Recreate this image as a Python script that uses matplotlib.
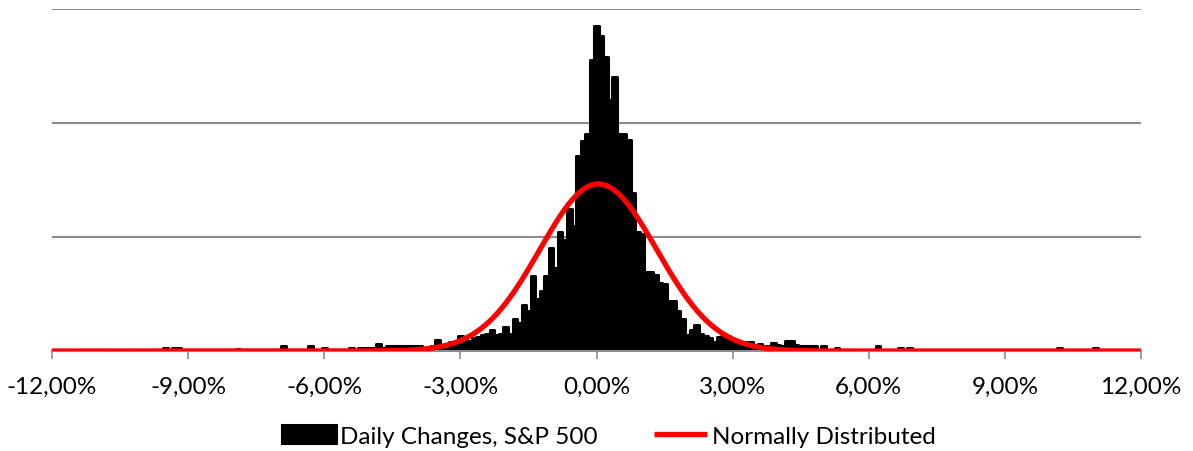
"""
Histogram of daily S&P 500 changes against a fitted normal curve
"""
import matplotlib.pyplot as plt
import numpy as np
from matplotlib.ticker import FuncFormatter

# daily change bins (percent, 0.1% wide) and number of days per bin
change_pct = [
    -9.5, -9.3, -9.2, -7.9, -6.9, -6.3, -6.0, -5.4, -5.2, -5.1,
    -5.0, -4.9, -4.8, -4.7, -4.6, -4.5, -4.4, -4.3, -4.2, -4.1,
    -4.0, -3.9, -3.8, -3.7, -3.6, -3.5, -3.4, -3.3, -3.2, -3.1,
    -3.0, -2.9, -2.8, -2.7, -2.6, -2.5, -2.4, -2.3, -2.2, -2.1,
    -2.0, -1.9, -1.8, -1.7, -1.6, -1.5, -1.4, -1.3, -1.2, -1.1,
    -1.0, -0.9, -0.8, -0.7, -0.6, -0.5, -0.4, -0.3, -0.2, -0.1,
    0.0, 0.1, 0.2, 0.3, 0.4, 0.5, 0.6, 0.7, 0.8, 0.9,
    1.0, 1.1, 1.2, 1.3, 1.4, 1.5, 1.6, 1.7, 1.8, 1.9,
    2.0, 2.1, 2.2, 2.3, 2.4, 2.5, 2.6, 2.7, 2.8, 2.9,
    3.0, 3.1, 3.2, 3.3, 3.4, 3.5, 3.6, 3.7, 3.8, 3.9,
    4.0, 4.1, 4.2, 4.3, 4.4, 4.5, 4.6, 4.7, 4.8, 5.0,
    5.3, 6.2, 6.7, 6.9, 10.2, 11.0,
]
day_count = [
    3, 3, 3, 2, 4, 4, 3, 3, 3, 3,
    3, 3, 6, 3, 4, 4, 4, 4, 4, 4,
    4, 4, 3, 3, 4, 10, 5, 5, 8, 8,
    13, 11, 9, 11, 12, 14, 15, 18, 14, 15,
    21, 15, 28, 25, 40, 35, 66, 46, 53, 66,
    90, 73, 104, 97, 125, 110, 171, 184, 190, 255,
    285, 276, 258, 220, 240, 190, 190, 185, 139, 104,
    103, 69, 69, 67, 60, 59, 44, 44, 35, 28,
    14, 18, 23, 15, 13, 11, 8, 12, 13, 13,
    8, 8, 7, 8, 8, 5, 6, 4, 4, 7,
    5, 4, 9, 9, 5, 4, 4, 4, 4, 4,
    3, 4, 3, 3, 3, 3,
]

# fitted normal curve (mean, sd in percent, height in days per bin)
norm_mean = 0.04
norm_sd = 1.29
norm_peak = 146.5

x_ticks = [-12, -9, -6, -3, 0, 3, 6, 9, 12]
grid_levels = [100, 200, 300]

FONT = "Lato"
GRAY = "#8c8c8c"

fig = plt.figure(figsize=(11.93, 4.52), dpi=100)
ax = fig.add_axes([52 / 1193, 1 - 352 / 452, (1141 - 52) / 1193, (352 - 10) / 452])

for level in grid_levels:
    ax.axhline(level, color=GRAY, linewidth=1.5, zorder=0)

bars = ax.bar(
    change_pct,
    day_count,
    width=0.1,
    color="black",
    edgecolor="black",
    linewidth=2.2,
    joinstyle="round",
    label="Daily Changes, S&P 500",
    zorder=2,
)

curve_x = np.linspace(-12, 12, 2401)
curve_y = norm_peak * np.exp(-0.5 * ((curve_x - norm_mean) / norm_sd) ** 2)
(curve,) = ax.plot(curve_x, curve_y, color="#ff0000", linewidth=3.8,
                   label="Normally Distributed", zorder=3, solid_capstyle="butt")

ax.set_xlim(-12, 12)
ax.set_ylim(0, 300)
ax.set_xticks(x_ticks)
ax.xaxis.set_major_formatter(
    FuncFormatter(lambda v, _: f"{v:.2f}%".replace(".", ","))
)
ax.set_yticks([])
for side in ("top", "right", "left"):
    ax.spines[side].set_visible(False)
ax.spines["bottom"].set_color(GRAY)
ax.spines["bottom"].set_linewidth(1.5)
ax.tick_params(axis="x", colors=GRAY, length=6, width=1.2, pad=12)
for lbl in ax.get_xticklabels():
    lbl.set_color("black")
    lbl.set_fontfamily(FONT)
    lbl.set_fontsize(17.5)

fig.legend(
    handles=[bars, curve],
    loc="center",
    bbox_to_anchor=(609 / 1193, 1 - 437 / 452),
    ncol=2,
    frameon=False,
    prop={"family": FONT, "size": 17.5},
    handlelength=2.2,
    handleheight=0.7,
    handletextpad=0.2,
    columnspacing=2.3,
)

fig.savefig("out.png", dpi=100)
